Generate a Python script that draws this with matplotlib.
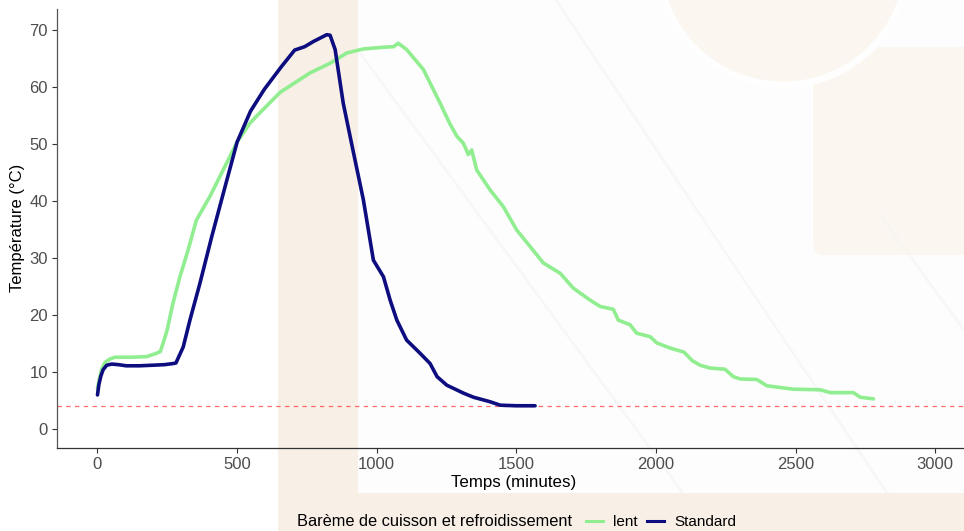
import matplotlib
matplotlib.use("Agg")
import matplotlib.pyplot as plt
from matplotlib.patches import Rectangle, Circle, FancyBboxPatch
from matplotlib.lines import Line2D

plt.rcParams['font.family'] = ['Liberation Sans', 'DejaVu Sans']

# ---------------- data ----------------
standard_t = [0, 5, 12, 20, 33, 51, 75, 103, 150, 197, 240, 272, 281, 307, 331,
              366, 409, 451, 500, 548, 597, 657, 706, 742, 773, 797, 821, 833,
              851, 880, 916, 952, 988, 1024, 1048, 1072, 1107, 1155, 1191, 1216,
              1251, 1311, 1346, 1406, 1442, 1500, 1567]
standard_temp = [6.0, 7.8, 9.3, 10.4, 11.2, 11.4, 11.3, 11.1, 11.1, 11.2, 11.3,
                 11.5, 11.6, 14.4, 19.1, 25.4, 33.7, 41.4, 50.3, 55.7, 59.5,
                 63.4, 66.4, 67.0, 67.9, 68.5, 69.1, 69.0, 66.5, 57.1, 48.6,
                 40.2, 29.6, 26.7, 22.6, 19.1, 15.6, 13.3, 11.5, 9.2, 7.7, 6.3,
                 5.6, 4.8, 4.2, 4.1, 4.1]

lent_t = [0, 5, 15, 27, 45, 63, 120, 176, 212, 225, 240, 250, 269, 294, 324,
          354, 403, 451, 500, 546, 573, 654, 742, 761, 833, 893, 952, 1024,
          1060, 1077, 1107, 1167, 1227, 1262, 1287, 1310, 1328, 1340, 1358,
          1406, 1453, 1501, 1549, 1597, 1657, 1704, 1764, 1800, 1847, 1865,
          1907, 1931, 1979, 2003, 2051, 2100, 2130, 2158, 2194, 2247, 2277,
          2301, 2361, 2397, 2492, 2588, 2624, 2707, 2731, 2779]
lent_temp = [7.0, 8.5, 10.5, 11.7, 12.3, 12.6, 12.6, 12.7, 13.3, 13.6, 15.8,
             17.5, 21.8, 26.5, 31.3, 36.6, 40.8, 45.5, 50.3, 53.6, 55.0, 59.0,
             61.8, 62.4, 64.1, 65.9, 66.6, 66.9, 67.0, 67.6, 66.5, 63.0, 57.1,
             53.5, 51.3, 50.1, 48.1, 48.9, 45.4, 41.9, 39.0, 34.9, 32.0, 29.1,
             27.3, 24.7, 22.6, 21.5, 21.0, 19.1, 18.3, 16.8, 16.2, 15.1, 14.2,
             13.5, 12.0, 11.2, 10.7, 10.5, 9.2, 8.8, 8.7, 7.6, 7.0, 6.9, 6.4,
             6.4, 5.6, 5.3]

threshold = 4
x_ticks = [0, 500, 1000, 1500, 2000, 2500, 3000]
y_ticks = [0, 10, 20, 30, 40, 50, 60, 70]
series_labels = ["lent", "Standard"]
legend_title = "Barème de cuisson et refroidissement"
x_label = "Temps (minutes)"
y_label = "Température (°C)"

# ---------------- figure ----------------
W, H = 964, 531
fig = plt.figure(figsize=(W / 100, H / 100), dpi=100)
fig.patch.set_facecolor('white')

# background watermark (pixel coordinates)
bg = fig.add_axes([0, 0, 1, 1], zorder=-5)
bg.set_xlim(0, W)
bg.set_ylim(H, 0)
bg.axis('off')
beige = '#f8efe6'
light_beige = '#fcf6f0'
bg.add_patch(Rectangle((358, 0), W - 358, 493, color='#fdfdfd', lw=0))
bg.add_patch(Rectangle((278, 0), 80, H, color=beige, lw=0))
bg.add_patch(Rectangle((278, 493), W - 278, H - 493, color=beige, lw=0))
bg.add_patch(FancyBboxPatch((818, 52), 160, 198, boxstyle="round,pad=5,rounding_size=10",
                            color=light_beige, lw=0))
bg.add_patch(Circle((783, -40), 125, facecolor=light_beige, edgecolor='#fefefe', lw=5))
for (x0, y0, x1, y1) in [(556, 0, 887, 493), (360, 53, 683, 493), (880, 215, 964, 330)]:
    bg.plot([x0, x1], [y0, y1], color='#f4f4f4', lw=2.0, alpha=0.6, solid_capstyle='butt')

# main axes
left, right = 57 / W, 1.0
bottom, top = 1 - 448 / H, 1 - 9 / H
ax = fig.add_axes([left, bottom, right - left, top - bottom])
ax.patch.set_alpha(0)

l1, = ax.plot(lent_t, lent_temp, color='#90ee90', lw=2.6, solid_joinstyle='round',
              solid_capstyle='round', label=series_labels[0])
l2, = ax.plot(standard_t, standard_temp, color='#0d0d80', lw=2.6, solid_joinstyle='round',
              solid_capstyle='round', label=series_labels[1])
ax.axhline(threshold, color='#ff5a5a', lw=0.9, ls=(0, (3.5, 3.5)), alpha=0.9, zorder=1)

ax.set_xlim(-145, 3103)
ax.set_ylim(-3.3, 73.6)
ax.set_xticks(x_ticks)
ax.set_yticks(y_ticks)
ax.tick_params(axis='both', colors='#333333', labelcolor='#4d4d4d', labelsize=12,
               length=3.5, width=0.8, direction='out', pad=3)
for s in ['top', 'right']:
    ax.spines[s].set_visible(False)
ax.spines['left'].set_color('#555555')
ax.spines['bottom'].set_color('#333333')
ax.spines['left'].set_linewidth(0.9)
ax.spines['bottom'].set_linewidth(0.9)

fig.text(514 / W, 1 - 482 / H, x_label, ha='center', va='center', fontsize=12.2, color='black')
fig.text(18 / W, 1 - 228 / H, y_label, ha='center', va='center', fontsize=12,
         color='black', rotation=90)

# legend
fig.text(297 / W, 1 - 522 / H, legend_title, ha='left', va='center', fontsize=11.8, color='black')
h1 = Line2D([], [], color='#90ee90', lw=2.2)
h2 = Line2D([], [], color='#0d0d80', lw=2.2)
leg = fig.legend([h1, h2], series_labels, loc='center left',
                 bbox_to_anchor=(586 / W, 1 - 522 / H), ncol=2, frameon=False,
                 fontsize=11, handlelength=1.1, handletextpad=0.7,
                 columnspacing=0.6, borderpad=0, borderaxespad=0)

fig.savefig('out.png', dpi=100)
